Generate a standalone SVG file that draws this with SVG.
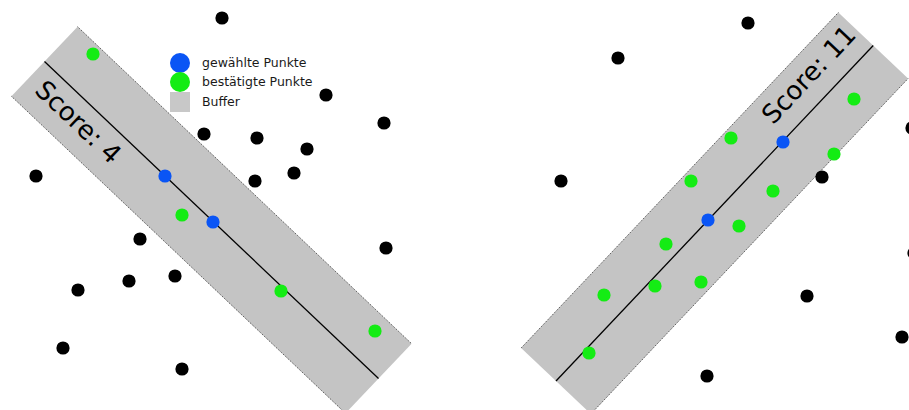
<svg xmlns="http://www.w3.org/2000/svg" width="909" height="410" viewBox="0 0 909 410">
<style>
.band{fill:#c4c4c4}
.edge{stroke:#333;stroke-width:0.8;stroke-dasharray:1.2 1.2;fill:none}
.axis{stroke:#000;stroke-width:1.3}
.score{font-family:"DejaVu Sans",sans-serif;font-size:26px;fill:#000}
.k{fill:#000}
.g{fill:#14ec14}
.b{fill:#0a55f5}
.lg{font-family:"DejaVu Sans",sans-serif;font-size:12.5px;fill:#1a1a1a}
</style>
<rect width="909" height="410" fill="#fff"/>
<g id="left-buffer" transform="translate(44.5,61.5) rotate(43.5)">
<rect class="band" x="0" y="-48" width="460.5" height="96"/>
<line class="edge" x1="0" y1="-48" x2="460.5" y2="-48"/>
<line class="edge" x1="0" y1="48" x2="460.5" y2="48"/>
<line class="axis" x1="0" y1="0" x2="460.5" y2="0"/>
<text class="score" x="13" y="29.5">Score: 4</text>
</g>
<g id="right-buffer" transform="translate(556,381) rotate(-46.6)">
<rect class="band" x="0" y="-48" width="461.7" height="96"/>
<line class="edge" x1="0" y1="-48" x2="461.7" y2="-48"/>
<line class="edge" x1="0" y1="48" x2="461.7" y2="48"/>
<line class="axis" x1="0" y1="0" x2="461.7" y2="0"/>
<text class="score" x="457.7" y="-18" text-anchor="end">Score: 11</text>
</g>
<g id="left-points">
<circle class="k" cx="222" cy="18" r="6.6"/>
<circle class="k" cx="326" cy="95" r="6.6"/>
<circle class="k" cx="384" cy="123" r="6.6"/>
<circle class="k" cx="204" cy="134" r="6.6"/>
<circle class="k" cx="257" cy="138" r="6.6"/>
<circle class="k" cx="307" cy="149" r="6.6"/>
<circle class="k" cx="294" cy="173" r="6.6"/>
<circle class="k" cx="255" cy="181" r="6.6"/>
<circle class="k" cx="36" cy="176" r="6.6"/>
<circle class="k" cx="140" cy="239" r="6.6"/>
<circle class="k" cx="386" cy="248" r="6.6"/>
<circle class="k" cx="78" cy="290" r="6.6"/>
<circle class="k" cx="129" cy="281" r="6.6"/>
<circle class="k" cx="175" cy="276" r="6.6"/>
<circle class="k" cx="63" cy="348" r="6.6"/>
<circle class="k" cx="182" cy="369" r="6.6"/>
<circle class="g" cx="93" cy="54" r="6.6"/>
<circle class="g" cx="182" cy="215" r="6.6"/>
<circle class="g" cx="281" cy="291" r="6.6"/>
<circle class="g" cx="375" cy="331" r="6.6"/>
<circle class="b" cx="165" cy="176" r="6.6"/>
<circle class="b" cx="213" cy="222" r="6.6"/>
</g>
<g id="right-points">
<circle class="k" cx="748" cy="23" r="6.6"/>
<circle class="k" cx="618" cy="58" r="6.6"/>
<circle class="k" cx="561" cy="181" r="6.6"/>
<circle class="k" cx="822" cy="177" r="6.6"/>
<circle class="k" cx="912" cy="128" r="6.6"/>
<circle class="k" cx="914" cy="253" r="6.6"/>
<circle class="k" cx="807" cy="296" r="6.6"/>
<circle class="k" cx="902" cy="337" r="6.6"/>
<circle class="k" cx="707" cy="376" r="6.6"/>
<circle class="g" cx="854" cy="99" r="6.6"/>
<circle class="g" cx="731" cy="138" r="6.6"/>
<circle class="g" cx="834" cy="154" r="6.6"/>
<circle class="g" cx="691" cy="181" r="6.6"/>
<circle class="g" cx="773" cy="191" r="6.6"/>
<circle class="g" cx="739" cy="226" r="6.6"/>
<circle class="g" cx="666" cy="244" r="6.6"/>
<circle class="g" cx="655" cy="286" r="6.6"/>
<circle class="g" cx="701" cy="282" r="6.6"/>
<circle class="g" cx="604" cy="295" r="6.6"/>
<circle class="g" cx="589" cy="353" r="6.6"/>
<circle class="b" cx="783" cy="142" r="6.6"/>
<circle class="b" cx="708" cy="220" r="6.6"/>
</g>
<g id="legend">
<circle class="b" cx="180" cy="63" r="10"/>
<circle class="g" cx="180" cy="82" r="10"/>
<rect x="170" y="92" width="20" height="20" fill="#c8c8c8"/>
<text class="lg" x="202" y="67">gewählte Punkte</text>
<text class="lg" x="202" y="86">bestätigte Punkte</text>
<text class="lg" x="202" y="105.5">Buffer</text>
</g>
</svg>
